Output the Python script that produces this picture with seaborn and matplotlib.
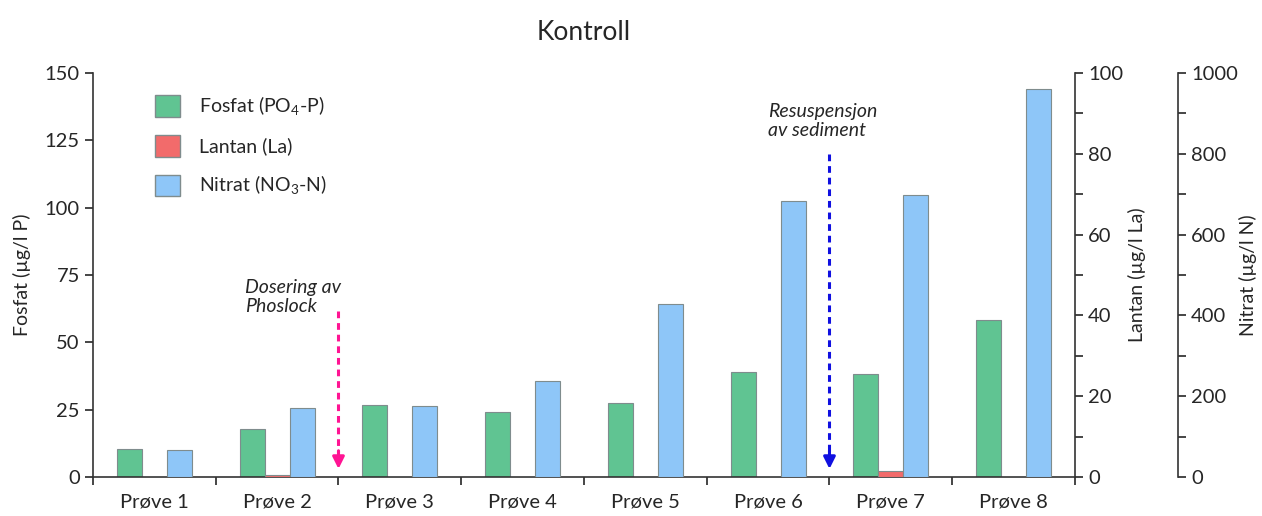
import numpy as np
import pandas as pd
import matplotlib
matplotlib.use('Agg')
import matplotlib.pyplot as plt
import seaborn as sns

# Data
prover = ['Prøve 1', 'Prøve 2', 'Prøve 3', 'Prøve 4', 'Prøve 5', 'Prøve 6', 'Prøve 7', 'Prøve 8']
fosfat = [10.5, 17.8, 26.8, 24.2, 27.5, 39.0, 38.3, 58.4]      # µg/l P (left axis)
lantan = [0.0, 0.5, 0.0, 0.0, 0.0, 0.0, 1.5, 0.0]              # µg/l La (right axis)
nitrat = [67, 171, 176, 238, 428, 683, 698, 960]               # µg/l N (outer right axis)
serier = ['Fosfat (PO$_4$-P)', 'Lantan (La)', 'Nitrat (NO$_3$-N)']
farger = ['#60C492', '#F26B6B', '#8EC6F8']

sns.set_style('ticks')
plt.rcParams['font.family'] = ['Lato', 'DejaVu Sans']
plt.rcParams['mathtext.fontset'] = 'custom'
plt.rcParams['mathtext.rm'] = 'Lato'

# long form table, one value column per axis so hue slots keep their positions
rows = []
for i, p in enumerate(prover):
    for s, v in zip(serier, [fosfat[i], lantan[i], nitrat[i]]):
        rows.append({'prove': p, 'serie': s, 'verdi': v})
df = pd.DataFrame(rows)

fig = plt.figure(figsize=(12.62, 5.16), dpi=100)
ax1 = fig.add_axes([0.0737, 0.0756, 0.7781, 0.7829])
ax2 = ax1.twinx()
ax3 = ax1.twinx()

pal = dict(zip(serier, farger))
for ax, s in zip([ax1, ax2, ax3], serier):
    d = df.copy()
    d.loc[d['serie'] != s, 'verdi'] = np.nan
    sns.barplot(data=d, x='prove', y='verdi', hue='serie', hue_order=serier,
                palette=pal, width=0.61, errorbar=None, legend=False,
                edgecolor='#7f8c8d', linewidth=0.8, saturation=1, ax=ax)

ax1.set_xlim(-0.5, 7.5)
ax1.set_ylim(0, 150)
ax2.set_ylim(0, 100)
ax3.set_ylim(0, 1000)

# axes and ticks
ax1.set_yticks(np.arange(0, 151, 25))
ax2.set_yticks(np.arange(0, 101, 20))
ax2.set_yticks(np.arange(10, 100, 20), minor=True)
ax3.set_yticks(np.arange(0, 1001, 200))
ax3.set_yticks(np.arange(100, 1000, 200), minor=True)
ax1.set_xticks(range(len(prover)))
ax1.set_xticklabels(prover)
ax1.set_xticks(np.arange(-0.5, 8, 1), minor=True)
ax1.tick_params(axis='x', which='major', length=0, pad=12, labelsize=14.5)
ax1.tick_params(axis='x', which='minor', length=6, width=1.2, direction='out')
ax1.tick_params(axis='y', length=6, width=1.2, labelsize=14.5)
for ax in [ax2, ax3]:
    ax.tick_params(axis='y', which='major', length=6, width=1.2, labelsize=14.5)
    ax.tick_params(axis='y', which='minor', length=6, width=1.2)
ax3.spines['right'].set_position(('outward', 74))

for ax in [ax1, ax2, ax3]:
    ax.spines['top'].set_visible(False)
    ax.set_xlabel('')
    for sp in ax.spines.values():
        sp.set_color('#333333')
        sp.set_linewidth(1.2)
ax1.spines['right'].set_visible(False)
ax2.spines['left'].set_visible(False)
ax3.spines['left'].set_visible(False)
ax2.spines['bottom'].set_visible(False)
ax3.spines['bottom'].set_visible(False)

ax1.set_ylabel('Fosfat (µg/l P)', fontsize=14, labelpad=10)
ax2.set_ylabel('Lantan (µg/l La)', fontsize=14, labelpad=3)
ax3.set_ylabel('Nitrat (µg/l N)', fontsize=14, labelpad=1)
ax1.set_title('Kontroll', fontsize=19, pad=24)

# legend
handles = [matplotlib.patches.Patch(facecolor=c, edgecolor='#7f8c8d', label=s)
           for s, c in zip(serier, farger)]
ax1.legend(handles=handles, loc='upper left', bbox_to_anchor=(0.045, 0.99),
           frameon=False, fontsize=14, handlelength=1.3, handleheight=1.3,
           labelspacing=0.9, handletextpad=1.0)

# event arrows
tr = ax1.get_xaxis_transform()
for x, ytop, col in [(1.5, 0.41, '#FF1493'), (5.5, 0.80, '#1010E0')]:
    ax1.plot([x, x], [ytop, 0.06], transform=tr, color=col, lw=2.2,
             ls=(0, (2.2, 1.6)), clip_on=False)
    ax1.annotate('', xy=(x, 0.02), xytext=(x, 0.065), xycoords=tr, textcoords=tr,
                 arrowprops=dict(arrowstyle='-|>,head_length=0.7,head_width=0.35',
                                 color=col, lw=2.2, shrinkA=0, shrinkB=0))
ax1.text(0.74, 0.49, 'Dosering av\nPhoslock', transform=tr, style='italic',
         fontsize=14, va='top', ha='left', linespacing=1.15)
ax1.text(5.0, 0.925, 'Resuspensjon\nav sediment', transform=tr, style='italic',
         fontsize=14, va='top', ha='left', linespacing=1.15)

fig.savefig('out.png', dpi=100)
